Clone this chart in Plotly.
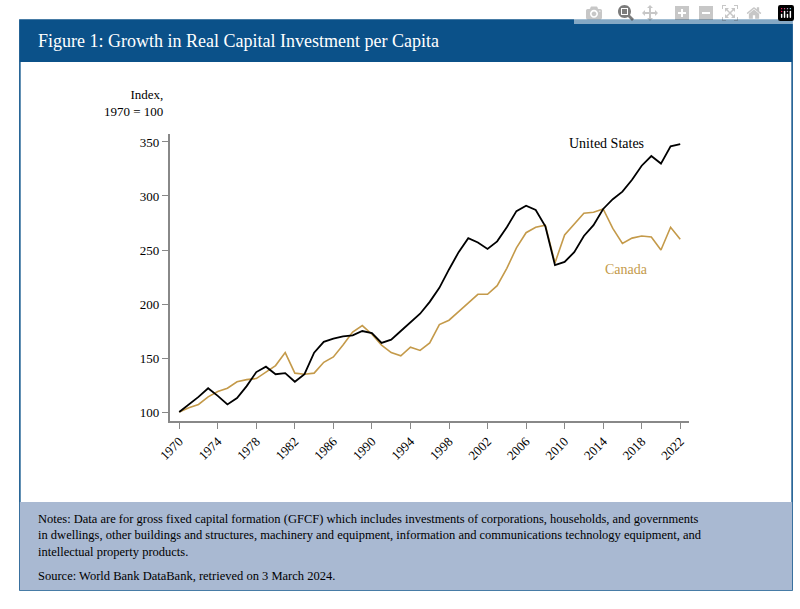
import plotly.graph_objects as go

years = list(range(1970, 2023))
united_states = [100, 107, 114, 122, 115, 107, 113, 124, 137, 142, 135, 136, 128, 135, 155, 165,
                 168, 170, 171, 175, 173, 164, 167, 175, 183, 191, 202, 215, 232, 248, 261, 257,
                 251, 258, 271, 286, 291, 287, 272, 236, 239, 248, 263, 273, 288, 297, 304, 315,
                 328, 337, 330, 346, 348]
canada = [100, 104, 107, 114, 119, 122, 128, 130, 131, 137, 143, 155, 136, 135, 136, 146,
          151, 162, 174, 180, 172, 162, 155, 152, 160, 157, 164, 181, 185, 193, 201, 209,
          209, 217, 233, 252, 266, 271, 273, 238, 264, 274, 284, 285, 288, 270, 256, 261,
          263, 262, 250, 271, 260]
tick_years = list(range(1970, 2023, 4))

FONT = "Liberation Serif"
BLUE = "#0b5189"
GOLD = "#c49a4a"

fig = go.Figure()
fig.add_trace(go.Scatter(x=years, y=canada, mode="lines", line=dict(color=GOLD, width=1.6), name="Canada"))
fig.add_trace(go.Scatter(x=years, y=united_states, mode="lines", line=dict(color="black", width=1.8), name="United States"))

fig.update_layout(
    width=800, height=609, margin=dict(l=0, r=0, t=0, b=0),
    paper_bgcolor="white", plot_bgcolor="white", showlegend=False,
    font=dict(family=FONT, size=13, color="black"),
    xaxis=dict(domain=[0.2, 0.859], range=[1969, 2022.9], tickvals=tick_years, tickangle=-45,
               showgrid=False, zeroline=False, showline=True, linecolor="#888", linewidth=1.5,
               ticks="outside", ticklen=6, tickcolor="#888", tickfont=dict(size=13)),
    yaxis=dict(domain=[0.3087, 0.78], range=[91.7, 357.4], tickvals=[100, 150, 200, 250, 300, 350],
               showgrid=False, zeroline=False, showline=True, linecolor="#888", linewidth=1.5,
               ticks="outside", ticklen=6, tickcolor="#888", tickfont=dict(size=13)),
)

shapes = [
    dict(type="rect", xref="paper", yref="paper", x0=0.01, x1=0.99, y0=1 - 590 / 609, y1=1 - 20 / 609,
         line=dict(color=BLUE, width=1.5), fillcolor="rgba(0,0,0,0)", layer="below"),
    dict(type="rect", xref="paper", yref="paper", x0=0.01, x1=0.99, y0=1 - 62 / 609, y1=1 - 20 / 609,
         line=dict(width=0), fillcolor=BLUE),
    dict(type="rect", xref="paper", yref="paper", x0=0.01, x1=0.99, y0=1 - 590 / 609, y1=1 - 502 / 609,
         line=dict(width=0), fillcolor="#a9b9d2"),
]
fig.update_layout(shapes=shapes)

fig.add_annotation(x=0.03, y=1 - 41 / 609, xref="paper", yref="paper", xanchor="left", yanchor="middle",
                   text="Figure 1: Growth in Real Capital Investment per Capita", showarrow=False,
                   font=dict(family=FONT, size=18, color="white"))
fig.add_annotation(x=155 / 800, y=1 - 103 / 609, xref="paper", yref="paper", xanchor="right", yanchor="middle",
                   text="Index,<br>1970 = 100", align="right", showarrow=False, font=dict(size=13))
fig.add_annotation(x=644 / 800, y=1 - 134 / 609, xref="paper", yref="paper", text="United States", showarrow=False,
                   font=dict(size=14, color="black"))
fig.add_annotation(x=648 / 800, y=1 - 269 / 609, xref="paper", yref="paper", text="Canada", showarrow=False,
                   font=dict(size=14, color=GOLD))
fig.add_annotation(x=0.03, y=1 - 510 / 609, xref="paper", yref="paper", xanchor="left", yanchor="top",
                   align="left", showarrow=False, font=dict(size=12.5),
                   text="Notes: Data are for gross fixed capital formation (GFCF) which includes investments of corporations, households, and governments<br>"
                        "in dwellings, other buildings and structures, machinery and equipment, information and communications technology equipment, and<br>"
                        "intellectual property products.")
fig.add_annotation(x=0.03, y=1 - 576 / 609, xref="paper", yref="paper", xanchor="left", yanchor="middle",
                   align="left", showarrow=False, font=dict(size=12.5),
                   text="Source: World Bank DataBank, retrieved on 3 March 2024.")

fig.write_html("out.html", post_script="document.body.style.margin='0';")
